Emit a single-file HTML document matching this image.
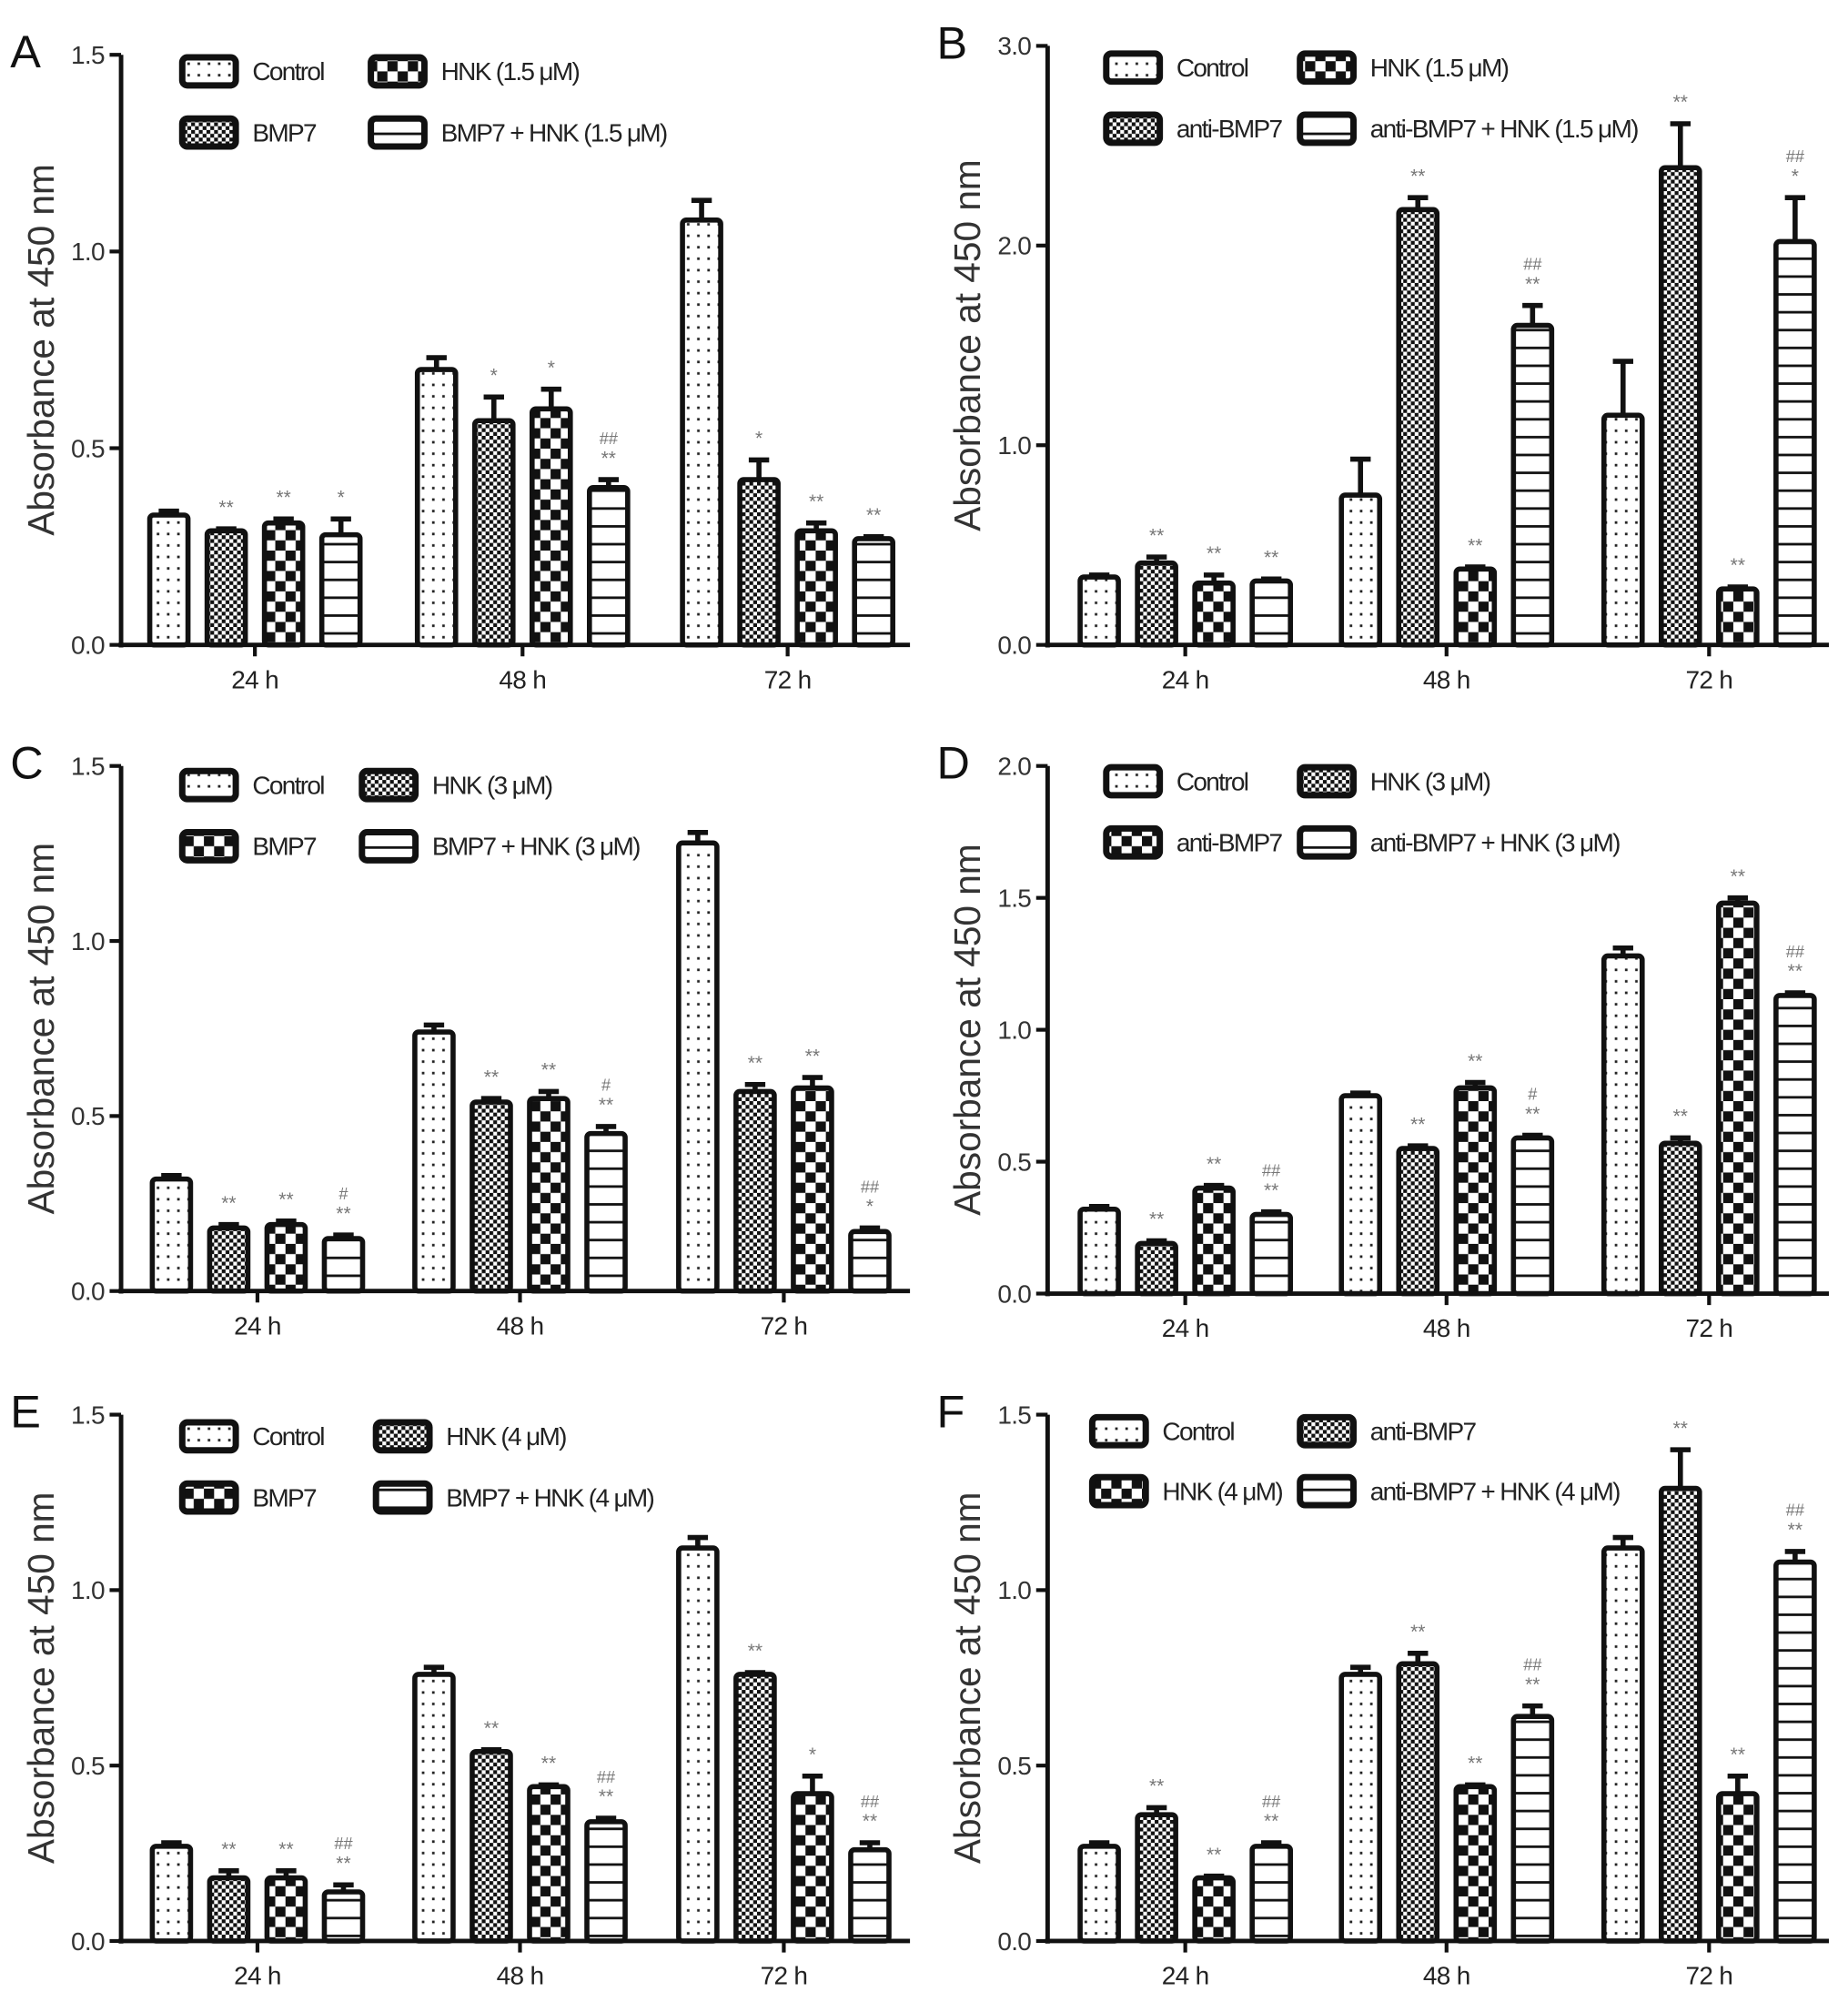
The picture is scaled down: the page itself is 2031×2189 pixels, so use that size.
<!DOCTYPE html>
<html><head><meta charset="utf-8"><style>
html,body{margin:0;padding:0;background:#fff}
svg{display:block}
text{font-family:"Liberation Sans",sans-serif}
</style></head><body>
<svg id="fig" xmlns="http://www.w3.org/2000/svg" width="2031" height="2189" viewBox="0 0 1450 1563" preserveAspectRatio="none">
<defs>
<pattern id="pDots" width="8" height="9" patternUnits="userSpaceOnUse"><rect width="8" height="9" fill="#fff"/><rect x="3" y="4" width="2" height="2" fill="#222"/></pattern>
<pattern id="pFine" width="6" height="6" patternUnits="userSpaceOnUse"><rect width="6" height="6" fill="#fff"/><rect width="3" height="3" fill="#111"/><rect x="3" y="3" width="3" height="3" fill="#111"/></pattern>
<pattern id="pChk" width="16" height="16" patternUnits="userSpaceOnUse"><rect width="16" height="16" fill="#fff"/><rect width="8" height="8" fill="#111"/><rect x="8" y="8" width="8" height="8" fill="#111"/></pattern>
<pattern id="pLines" width="10" height="14" patternUnits="userSpaceOnUse"><rect width="10" height="14" fill="#fff"/><rect y="6" width="10" height="2" fill="#111"/></pattern>
</defs>
</svg>
<script>
const fills=['url(#pDots)','url(#pFine)','url(#pChk)','url(#pLines)'];
const categories=['24 h','48 h','72 h'];

const aVals=[[0.33,0.70,1.08],[0.29,0.57,0.42],[0.31,0.60,0.29],[0.28,0.40,0.27]];
const aErr=[[0.01,0.03,0.05],[0.005,0.06,0.05],[0.01,0.05,0.02],[0.04,0.02,0.005]];
const aAnn=[['','',''],['**','*','*'],['**','*','**'],['*','##\n**','**']];
const aTicks=[0,0.5,1.0,1.5];

const bVals=[[0.34,0.75,1.15],[0.41,2.18,2.39],[0.31,0.38,0.28],[0.32,1.60,2.02]];
const bErr=[[0.01,0.18,0.27],[0.03,0.06,0.22],[0.04,0.01,0.01],[0.01,0.10,0.22]];
const bAnn=[['','',''],['**','**','**'],['**','**','**'],['**','##\n**','##\n*']];
const bTicks=[0,1.0,2.0,3.0];

const cVals=[[0.32,0.74,1.28],[0.18,0.54,0.57],[0.19,0.55,0.58],[0.15,0.45,0.17]];
const cErr=[[0.01,0.02,0.03],[0.01,0.01,0.02],[0.01,0.02,0.03],[0.01,0.02,0.01]];
const cAnn=[['','',''],['**','**','**'],['**','**','**'],['#\n**','#\n**','##\n*']];
const cTicks=[0,0.5,1.0,1.5];

const dVals=[[0.32,0.75,1.28],[0.19,0.55,0.57],[0.40,0.78,1.48],[0.30,0.59,1.13]];
const dErr=[[0.01,0.01,0.03],[0.01,0.01,0.02],[0.01,0.02,0.02],[0.01,0.01,0.01]];
const dAnn=[['','',''],['**','**','**'],['**','**','**'],['##\n**','#\n**','##\n**']];
const dTicks=[0,0.5,1.0,1.5,2.0];

const eVals=[[0.27,0.76,1.12],[0.18,0.54,0.76],[0.18,0.44,0.42],[0.14,0.34,0.26]];
const eErr=[[0.01,0.02,0.03],[0.02,0.005,0.005],[0.02,0.005,0.05],[0.02,0.01,0.02]];
const eAnn=[['','',''],['**','**','**'],['**','**','*'],['##\n**','##\n**','##\n**']];
const eTicks=[0,0.5,1.0,1.5];

const fVals=[[0.27,0.76,1.12],[0.36,0.79,1.29],[0.18,0.44,0.42],[0.27,0.64,1.08]];
const fErr=[[0.01,0.02,0.03],[0.02,0.03,0.11],[0.005,0.005,0.05],[0.01,0.03,0.03]];
const fAnn=[['','',''],['**','**','**'],['**','**','**'],['##\n**','##\n**','##\n**']];
const fTicks=[0,0.5,1.0,1.5];

const svg=document.getElementById('fig');
const NS='http://www.w3.org/2000/svg';
function mk(tag,attrs,parent,txt){const e=document.createElementNS(NS,tag);for(const k in attrs)e.setAttribute(k,attrs[k]);if(txt!==undefined)e.textContent=txt;parent.appendChild(e);return e;}

const panels=[
 {id:'a',L:'A',vals:aVals,err:aErr,ann:aAnn,ticks:aTicks,x0:95,yTop:43,yBot:506,xEnd:714,centers:[200,410,618],
  leg:[['Control',143,56],['HNK (1.5 μM)',291,56],['BMP7',143,104],['BMP7 + HNK (1.5 μM)',291,104]],legOrder:[0,2,1,3]},
 {id:'b',L:'B',vals:bVals,err:bErr,ann:bAnn,ticks:bTicks,x0:822,yTop:36,yBot:506,xEnd:1435,centers:[930,1135,1341],
  leg:[['Control',868,53],['HNK (1.5 μM)',1020,53],['anti-BMP7',868,101],['anti-BMP7 + HNK (1.5 μM)',1020,101]],legOrder:[0,2,1,3]},
 {id:'c',L:'C',vals:cVals,err:cErr,ann:cAnn,ticks:cTicks,x0:95,yTop:601,yBot:1013,xEnd:714,centers:[202,408,615],
  leg:[['Control',143,616],['HNK (3 μM)',284,616],['BMP7',143,664],['BMP7 + HNK (3 μM)',284,664]],legOrder:[0,1,2,3]},
 {id:'d',L:'D',vals:dVals,err:dErr,ann:dAnn,ticks:dTicks,x0:822,yTop:601,yBot:1015,xEnd:1435,centers:[930,1135,1341],
  leg:[['Control',868,613],['HNK (3 μM)',1020,613],['anti-BMP7',868,661],['anti-BMP7 + HNK (3 μM)',1020,661]],legOrder:[0,1,2,3]},
 {id:'e',L:'E',vals:eVals,err:eErr,ann:eAnn,ticks:eTicks,x0:95,yTop:1110,yBot:1523,xEnd:714,centers:[202,408,615],
  leg:[['Control',143,1127],['HNK (4 μM)',295,1127],['BMP7',143,1175],['BMP7 + HNK (4 μM)',295,1175]],legOrder:[0,1,2,3]},
 {id:'f',L:'F',vals:fVals,err:fErr,ann:fAnn,ticks:fTicks,x0:822,yTop:1110,yBot:1523,xEnd:1435,centers:[930,1135,1341],
  leg:[['Control',857,1123],['anti-BMP7',1020,1123],['HNK (4 μM)',857,1170],['anti-BMP7 + HNK (4 μM)',1020,1170]],legOrder:[0,1,2,3]}
];

panels.forEach(p=>{
 const g=mk('g',{},svg);
 
 
 const yMax=p.ticks[p.ticks.length-1];
 const y=v=>p.yBot-(v/yMax)*(p.yBot-p.yTop);
 const lab=mk('text',{x:p.x0-87,y:p.yTop+10,'font-size':36,fill:'#111'},g,p.L);
 
 
 const ya=mk('line',{x1:p.x0,y1:p.yTop,x2:p.x0,y2:p.yBot+2,stroke:'#111','stroke-width':3.5},g);
 
 
 const xa=mk('line',{x1:p.x0-2,y1:p.yBot,x2:p.xEnd,y2:p.yBot,stroke:'#111','stroke-width':3.5},g);
 
 
 p.ticks.forEach(t=>{
  mk('line',{x1:p.x0-9,y1:y(t),x2:p.x0,y2:y(t),stroke:'#111','stroke-width':3},g);
  const tl=mk('text',{x:p.x0-13,y:y(t)+7,'font-size':20,'text-anchor':'end',fill:'#333','letter-spacing':-0.5},g,t.toFixed(1));
  
  
 });
 const yt=mk('text',{x:0,y:0,'font-size':29,'text-anchor':'middle',fill:'#333',transform:`translate(${p.x0-53},${(p.yTop+p.yBot)/2}) rotate(-90)`},g,'Absorbance at 450 nm');
 
 
 categories.forEach((c,i)=>{
  const cx=p.centers[i];
  mk('line',{x1:cx,y1:p.yBot,x2:cx,y2:p.yBot+9,stroke:'#111','stroke-width':3},g);
  const cl=mk('text',{x:cx,y:p.yBot+34,'font-size':20,'text-anchor':'middle',fill:'#222','letter-spacing':-0.5},g,c);
  
  
  for(let s=0;s<4;s++){
   const bx=cx+(s-1.5)*45-15, v=p.vals[s][i], e=p.err[s][i];
   const top=y(v), eTop=y(v+e);
   const ln=mk('line',{x1:bx+15,y1:top,x2:bx+15,y2:eTop,stroke:'#111','stroke-width':4},g);
   const cap=mk('line',{x1:bx+7,y1:eTop,x2:bx+23,y2:eTop,stroke:'#111','stroke-width':4},g);
   
   
   
   
   const r=mk('rect',{x:bx,y:top,width:30,height:p.yBot-top,fill:fills[s],stroke:'#111','stroke-width':4,rx:3},g);
   
   
   const a=p.ann[s][i];
   if(a){
    const lines=a.split('\n');
    lines.forEach((t,k)=>{
     const ty=eTop-12-(lines.length-1-k)*16;
     const at=mk('text',{x:bx+15,y:ty,'font-size':t.startsWith('#')?13:15,'text-anchor':'middle',fill:'#777'},g,t);
     
     
    });
   }
  }
 });
 p.leg.forEach((l,k)=>{
  const s=p.legOrder[k];
  const lx=l[1], ly=l[2];
  const sw=mk('rect',{x:lx,y:ly-11,width:42,height:22,fill:fills[s],stroke:'#111','stroke-width':5,rx:4},g);
  
  
  const lt=mk('text',{x:lx+55,y:ly+7,'font-size':20,fill:'#222','letter-spacing':-1.2},g,l[0]);
  
  
 });
});
</script>
</body></html>
